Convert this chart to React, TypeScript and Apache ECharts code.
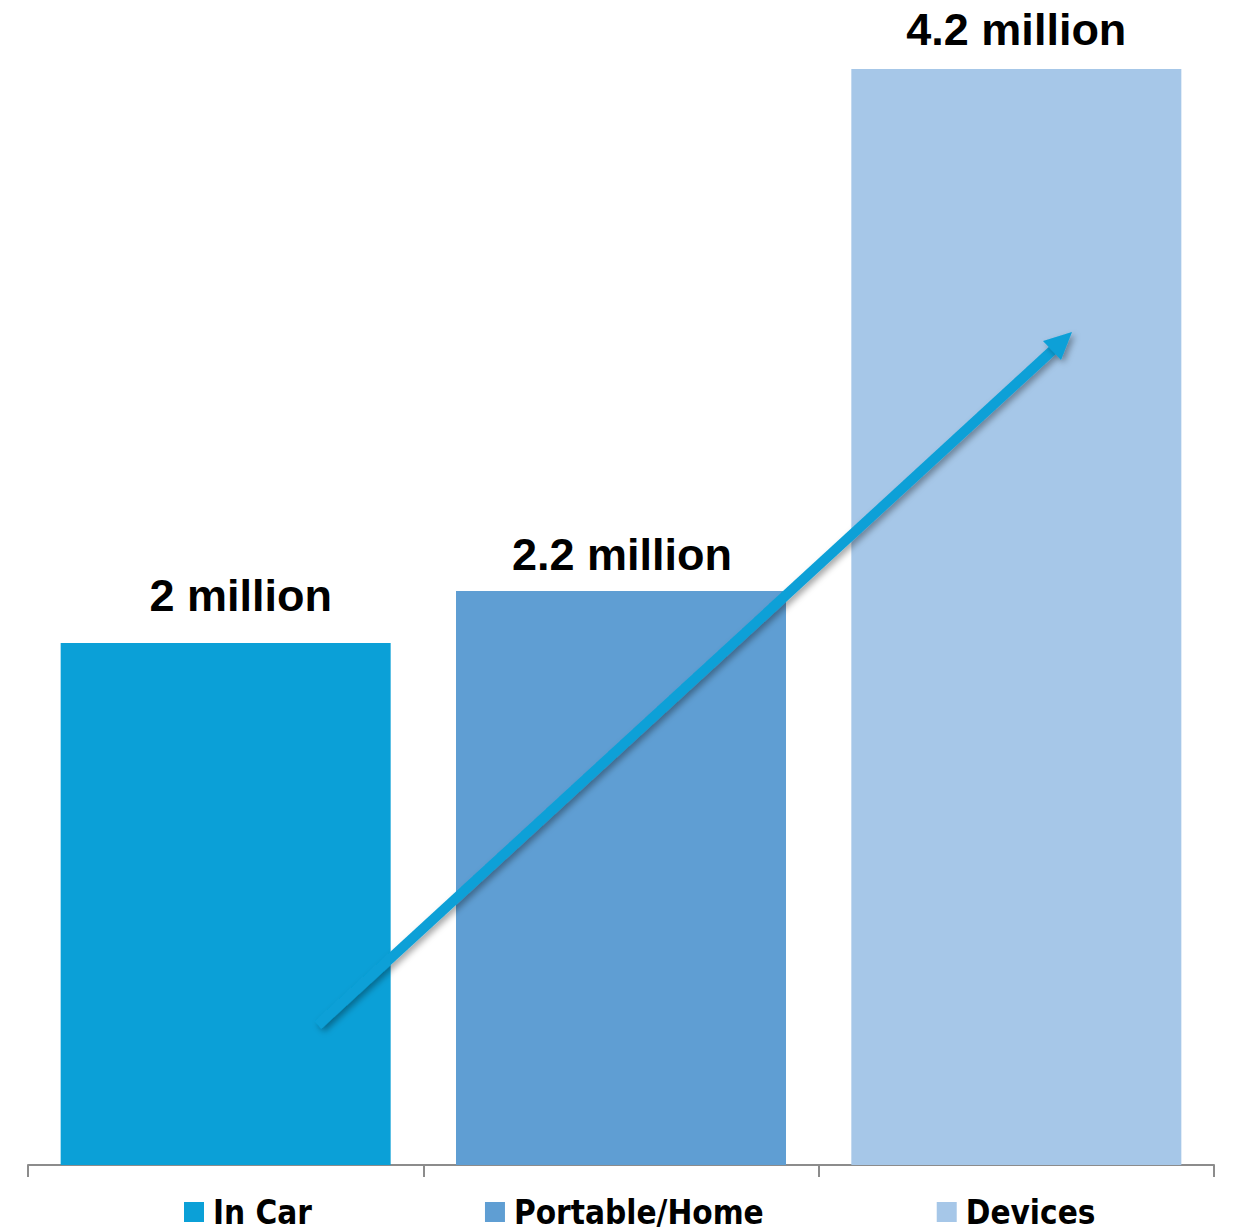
import React, { useEffect, useRef } from "react";
import * as echarts from "echarts";

const categories = ["In Car", "Portable/Home", "Devices"];
const seriesNames = ["In Car", "Portable/Home", "Devices"];
const values = [2, 2.2, 4.2];
const valueLabels = ["2 million", "2.2 million", "4.2 million"];
const colors = ["#0BA0D7", "#5F9ED3", "#A6C7E8"];
const labelDistances = [25, 14, 17];
const labelShiftX = [15, 1, 0];

export default function App() {
  const ref = useRef<HTMLDivElement>(null);
  useEffect(() => {
    document.body.style.margin = "0";
    const chart = echarts.init(ref.current!, null, { renderer: "svg" });
    const series = seriesNames.map((name, i) => ({
      name,
      type: "bar",
      stack: "all",
      barWidth: 330,
      itemStyle: { color: colors[i] },
      label: {
        show: true,
        position: "top",
        distance: labelDistances[i],
        offset: [labelShiftX[i], 0],
        formatter: () => valueLabels[i],
        fontFamily: "Liberation Sans",
        fontWeight: "bold",
        fontSize: 45,
        color: "#000",
      },
      data: values.map((v, j) => (j === i ? v : null)),
    }));
    chart.setOption({
      animation: false,
      backgroundColor: "#fff",
      grid: { left: 28, right: 20, top: 69, bottom: 65 },
      xAxis: {
        type: "category",
        data: categories,
        axisLine: { show: true, lineStyle: { color: "#8c8c8c", width: 2 } },
        axisTick: { show: true, length: 12, lineStyle: { color: "#8c8c8c", width: 2 } },
        axisLabel: { show: false },
      },
      yAxis: {
        type: "value",
        min: 0,
        max: 4.2,
        show: false,
        splitLine: { show: false },
      },
      legend: {
        data: seriesNames,
        left: 179,
        top: 1190,
        itemWidth: 20,
        itemHeight: 20,
        itemGap: 173,
        icon: "rect",
        textStyle: {
          fontFamily: "'DejaVu Sans Condensed', 'Liberation Sans', sans-serif",
          fontWeight: "bold",
          fontSize: 33,
          lineHeight: 34,
          color: "#000",
          padding: [0, 0, 0, 4],
        },
      },
      graphic: [
        {
          type: "line",
          shape: { x1: 318, y1: 1025, x2: 1054, y2: 349 },
          style: {
            stroke: "#0BA0D7",
            lineWidth: 10,
            shadowBlur: 6,
            shadowOffsetX: 3,
            shadowOffsetY: 3,
            shadowColor: "rgba(0,0,0,0.35)",
          },
          z: 100,
        },
        {
          type: "polygon",
          shape: { points: [[1072, 332], [1043, 341], [1061, 360]] },
          style: {
            fill: "#0BA0D7",
            shadowBlur: 6,
            shadowOffsetX: 3,
            shadowOffsetY: 3,
            shadowColor: "rgba(0,0,0,0.35)",
          },
          z: 100,
        },
      ],
      series,
    });
    return () => chart.dispose();
  }, []);
  return (
    <div
      ref={ref}
      style={{ position: "fixed", left: 0, top: 0, width: 1234, height: 1230 }}
    />
  );
}
